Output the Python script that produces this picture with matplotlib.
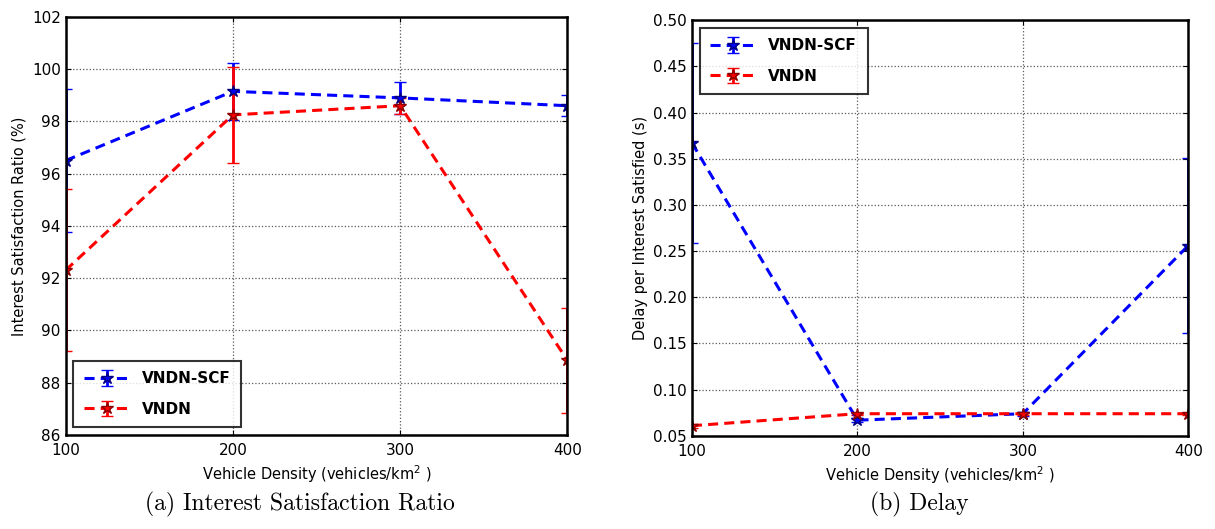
import matplotlib.pyplot as plt

density = [100, 200, 300, 400]

# (a) interest satisfaction ratio, %
isr_scf = [96.5, 99.15, 98.9, 98.6]
isr_scf_err = [2.75, 1.1, 0.6, 0.4]
isr_vndn = [92.3, 98.25, 98.6, 88.85]
isr_vndn_err = [3.1, 1.85, 0.3, 2.0]

# (b) delay per interest satisfied, s
delay_scf = [0.367, 0.067, 0.074, 0.256]
delay_scf_err = [0.108, 0.002, 0.002, 0.095]
delay_vndn = [0.061, 0.074, 0.074, 0.074]
delay_vndn_err = [0.002, 0.001, 0.001, 0.001]

fig = plt.figure(figsize=(12.15, 5.29), dpi=100)
ax1 = fig.add_axes([0.054, 0.178, 0.413, 0.79])
ax2 = fig.add_axes([0.5695, 0.176, 0.4085, 0.786])


def draw(ax, scf, scf_err, vndn, vndn_err):
    l1 = ax.errorbar(density, scf, yerr=scf_err, color="blue", ls="--", lw=2.2,
                     marker="*", ms=9, mec="navy", capsize=4, elinewidth=2,
                     label="VNDN-SCF")
    l2 = ax.errorbar(density, vndn, yerr=vndn_err, color="red", ls="--", lw=2.2,
                     marker="*", ms=9, mec="darkred", capsize=4, elinewidth=2,
                     label="VNDN")
    l1[0].set_dashes((3.3, 2))
    l2[0].set_dashes((3.3, 2))
    ax.set_xlim(100, 400)
    ax.set_xticks(density)
    ax.grid(True, color="0.35", ls=":", lw=0.9)
    ax.tick_params(direction="in", top=True, right=True, labelsize=11)
    ax.tick_params(axis="x", pad=6)
    for s in ax.spines.values():
        s.set_linewidth(1.8)
    ax.set_xlabel("Vehicle Density (vehicles/km$^2$ )", fontsize=10.5)


draw(ax1, isr_scf, isr_scf_err, isr_vndn, isr_vndn_err)
ax1.set_ylim(86, 102)
ax1.set_yticks(range(86, 103, 2))
ax1.set_ylabel("Interest Satisfaction Ratio (%)", fontsize=10.5)
leg1 = ax1.legend(loc="lower left", prop={"weight": "bold", "size": 11},
                  fancybox=False, edgecolor="black", borderpad=0.7,
                  labelspacing=1.0, handlelength=3.0)
leg1.get_frame().set_linewidth(1.5)

draw(ax2, delay_scf, delay_scf_err, delay_vndn, delay_vndn_err)
ax2.set_ylim(0.05, 0.50)
ax2.set_yticks([0.05 * i for i in range(1, 11)])
ax2.yaxis.set_major_formatter(plt.FormatStrFormatter("%.2f"))
ax2.set_ylabel("Delay per Interest Satisfied (s)", fontsize=10.5)
leg2 = ax2.legend(loc="upper left", prop={"weight": "bold", "size": 11},
                  fancybox=False, edgecolor="black", borderpad=0.7,
                  labelspacing=1.0, handlelength=3.0)
leg2.get_frame().set_linewidth(1.5)

fig.text(0.247, 0.035, "(a) Interest Satisfaction Ratio", ha="center",
         fontsize=17, family="cmr10")
fig.text(0.757, 0.035, "(b) Delay", ha="center", fontsize=17, family="cmr10")

fig.savefig("out.png", dpi=100)
